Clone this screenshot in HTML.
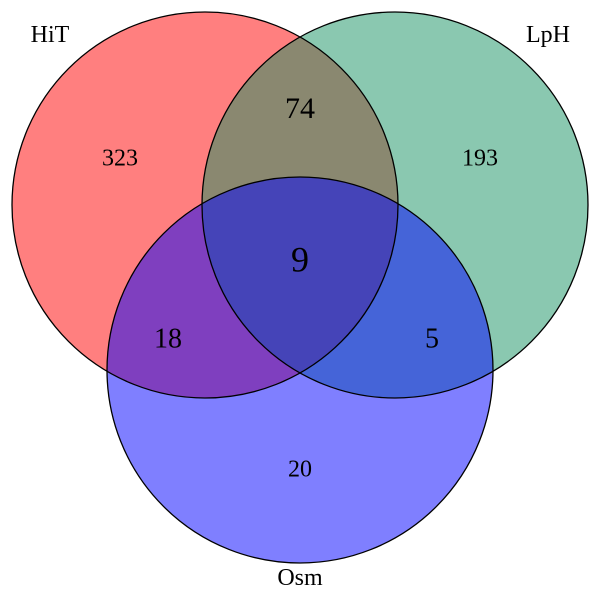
<!DOCTYPE html>
<html><head><meta charset="utf-8"><style>
html,body{margin:0;padding:0;background:#fff;}
svg text{font-family:"Liberation Serif",serif;fill:#000;}
</style></head><body>
<svg id="venn" width="600" height="600" viewBox="0 0 600 600"></svg>
<script>
const setNames = ["HiT", "LpH", "Osm"];
const setColors = ["rgb(255,0,0)", "rgb(21,146,98)", "rgb(0,0,255)"];
const regionLabels = ["HiT-only", "LpH-only", "Osm-only", "HiT-LpH", "HiT-Osm", "LpH-Osm", "all"];
const regionCounts = [323, 193, 20, 74, 18, 5, 9];

const svg = document.getElementById('venn');
const NS = "http://www.w3.org/2000/svg";
const r = 193;
const centers = [[205,205],[395,205],[300,370]];
const namePos = [[50,42],[548,42],[300,585]];
const regionPos = [[120,160],[480,160],[300,471],[300,111],[168,341],[432,341],[300,263]];
const regionSize = [24,24,24,30,28,28,36];

centers.forEach((c,i)=>{
  const el = document.createElementNS(NS,'circle');
  el.setAttribute('cx',c[0]); el.setAttribute('cy',c[1]); el.setAttribute('r',r);
  el.setAttribute('fill',setColors[i]); el.setAttribute('fill-opacity','0.5');
  
  
  svg.appendChild(el);
});
centers.forEach((c,i)=>{
  const el = document.createElementNS(NS,'circle');
  el.setAttribute('cx',c[0]); el.setAttribute('cy',c[1]); el.setAttribute('r',r);
  el.setAttribute('fill','none'); el.setAttribute('stroke','#000'); el.setAttribute('stroke-width','1.3');
  
  
  svg.appendChild(el);
});
setNames.forEach((n,i)=>{
  const t = document.createElementNS(NS,'text');
  t.setAttribute('x',namePos[i][0]); t.setAttribute('y',namePos[i][1]);
  t.setAttribute('text-anchor','middle'); t.setAttribute('font-size','24');
  t.textContent = n;
  
  
  svg.appendChild(t);
});
regionCounts.forEach((v,i)=>{
  const t = document.createElementNS(NS,'text');
  t.setAttribute('x',regionPos[i][0]); t.setAttribute('y',regionPos[i][1]);
  t.setAttribute('text-anchor','middle'); t.setAttribute('dominant-baseline','middle');
  t.setAttribute('font-size',regionSize[i]);
  t.textContent = v;
  
  
  svg.appendChild(t);
});
</script>
</body></html>
